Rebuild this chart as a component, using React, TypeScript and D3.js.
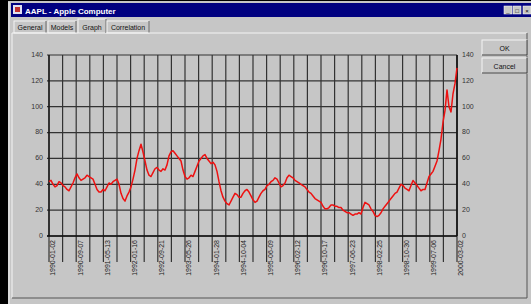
import React from 'react';
import * as d3 from 'd3';

// AAPL close at even steps
const prices = [
  42, 43, 40, 38, 39, 42, 41, 39, 38, 36, 35, 38, 41, 45, 48, 45, 43, 44, 45, 47,
  46, 45, 44, 40, 36, 34, 34, 36, 35, 38, 41, 40, 42, 43, 44, 40, 33, 29, 27, 31,
  34, 38, 44, 51, 60, 66, 71, 65, 58, 51, 47, 46, 49, 52, 53, 51, 50, 52, 51, 55,
  62, 65, 66, 64, 62, 60, 58, 51, 46, 44, 45, 47, 46, 50, 54, 58, 60, 62, 63, 60,
  58, 56, 57, 55, 50, 42, 35, 30, 27, 25, 24, 27, 30, 33, 32, 30, 30, 33, 35, 36,
  34, 31, 28, 26, 27, 30, 33, 35, 36, 39, 40, 42, 43, 45, 44, 41, 38, 39, 41, 45,
  47, 46, 45, 43, 42, 41, 40, 39, 38, 36, 34, 33, 31, 29, 28, 27, 26, 23, 21, 21,
  22, 24, 24, 23, 23, 22, 22, 20, 19, 18, 18, 17, 16, 17, 17, 18, 17, 22, 26, 25,
  24, 21, 19, 16, 15, 16, 18, 21, 23, 25, 27, 29, 31, 33, 34, 37, 40, 39, 37, 36,
  35, 39, 43, 41, 39, 37, 35, 36, 36, 41, 46, 48, 50, 54, 58, 66, 75, 88, 97, 113,
  100, 96, 110, 118, 130,
];

const dateLabels = [
  '1990-01-02', '1990-09-07', '1991-05-13', '1992-01-16', '1992-09-21', '1993-05-26',
  '1994-01-28', '1994-10-04', '1995-06-09', '1996-02-12', '1996-10-17', '1997-06-23',
  '1998-02-25', '1998-10-30', '1999-07-06', '2000-03-02',
];

const yTicks = [0, 20, 40, 60, 80, 100, 120, 140];
const tabs = ['General', 'Models', 'Graph', 'Correlation'];

const W = 531;
const H = 304;
const bg = '#c6c6c6';
const font = '"Liberation Sans", Arial, sans-serif';

export default function App() {
  const plot = { left: 49, right: 457, top: 55, bottom: 236 };

  const x = d3.scaleLinear().domain([0, prices.length - 1]).range([plot.left, plot.right]);
  const y = d3.scaleLinear().domain([0, 140]).range([plot.bottom, plot.top]);
  const gx = d3.scaleLinear().domain([0, 30]).range([plot.left, plot.right]);
  const lx = d3.scalePoint<string>().domain(dateLabels).range([plot.left, plot.right]);

  const line = d3.line<number>()
    .x((_, i) => x(i))
    .y(d => y(d));

  // tab positions
  const tabX = [14, 48, 78, 107];
  const tabW = [32, 28, 28, 42];

  return (
    <svg width={W} height={H} style={{ position: 'absolute', left: 0, top: 0 }}
      fontFamily={font}>
      <rect width={W} height={H} fill="#000" />
      <rect x={8} y={1} width={W - 8} height={H - 1} fill={bg} />
      <line x1={9} y1={2} x2={9} y2={H} stroke="#f0f0f0" />

      {/* title bar */}
      <rect x={11} y={3} width={W - 11} height={14} fill="#000080" />
      <rect x={13} y={5} width={9} height={9} fill="#e0e0f0" />
      <rect x={15} y={7} width={5} height={5} fill="#c03030" />
      <text x={25} y={13.5} fill="#fff" fontSize={8} fontWeight="bold">AAPL - Apple Computer</text>
      {[504, 513, 523].map((bx, i) => (
        <g key={bx}>
          <rect x={bx} y={6} width={8} height={8} fill={bg} stroke="#fff" strokeWidth={0.5} />
          <text x={bx + 4} y={12.5} fontSize={6} textAnchor="middle" fill="#000">{['_', '□', '×'][i]}</text>
        </g>
      ))}

      {/* tabs */}
      {tabs.map((t, i) => (
        <g key={t}>
          <rect x={tabX[i]} y={i === 2 ? 19 : 21} width={tabW[i]} height={i === 2 ? 14 : 12}
            fill={bg} stroke="#f4f4f4" strokeWidth={1} />
          <line x1={tabX[i] + tabW[i]} y1={i === 2 ? 19 : 21} x2={tabX[i] + tabW[i]} y2={33}
            stroke="#555" />
          <text x={tabX[i] + tabW[i] / 2} y={30} fontSize={7} textAnchor="middle" fill="#111">{t}</text>
        </g>
      ))}

      {/* tab panel */}
      <path d={`M12,298 V33 H${tabX[2]} M${tabX[2] + tabW[2]},33 H527`} stroke="#f4f4f4" fill="none" />
      <path d="M12,298 H527 V33" stroke="#555" fill="none" />

      {/* buttons */}
      {['OK', 'Cancel'].map((b, i) => (
        <g key={b}>
          <rect x={482} y={40 + i * 18} width={45} height={15} fill={bg} stroke="#f4f4f4" />
          <path d={`M482,${55 + i * 18} H527 V${40 + i * 18}`} stroke="#333" fill="none" />
          <text x={504.5} y={50.5 + i * 18} fontSize={7} textAnchor="middle" fill="#111">{b}</text>
        </g>
      ))}

      {/* grid */}
      {d3.range(31).map(k => (
        <line key={'v' + k} x1={gx(k)} x2={gx(k)} y1={plot.top} y2={262}
          stroke="#333" strokeWidth={1.2} />
      ))}
      {yTicks.map(t => (
        <line key={'h' + t} x1={plot.left - 2} x2={plot.right} y1={y(t)} y2={y(t)}
          stroke="#333" strokeWidth={1.2} />
      ))}
      <line x1={plot.left} x2={plot.left} y1={plot.top} y2={plot.bottom} stroke="#111" strokeWidth={1.3} />
      <line x1={plot.right} x2={plot.right} y1={plot.top} y2={plot.bottom} stroke="#111" strokeWidth={1.6} />
      <line x1={plot.left - 2} x2={plot.right} y1={plot.bottom} y2={plot.bottom} stroke="#111" strokeWidth={1.3} />

      {/* y labels */}
      {yTicks.map(t => (
        <g key={'yl' + t} fontSize={7} fill="#333">
          <text x={43} y={y(t)} textAnchor="end" dominantBaseline="middle">{t}</text>
          <text x={462} y={y(t)} dominantBaseline="middle">{t}</text>
        </g>
      ))}

      {/* x labels */}
      {dateLabels.map(d => (
        <text key={d} transform={`translate(${(lx(d) ?? 0) + 4.5},240) rotate(-90)`}
          fontSize={7} textAnchor="end" dominantBaseline="middle" fill="#222">{d}</text>
      ))}

      <path d={line(prices) ?? ''} fill="none" stroke="#ee1111" strokeWidth={1.5}
        strokeLinejoin="round" />
    </svg>
  );
}
